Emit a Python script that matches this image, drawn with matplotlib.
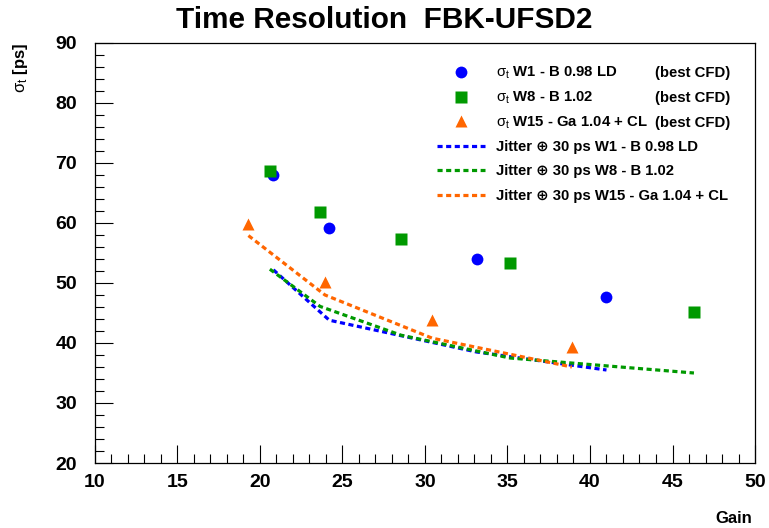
import matplotlib
matplotlib.use('Agg')
import matplotlib.pyplot as plt
from matplotlib.ticker import MultipleLocator
from matplotlib.lines import Line2D
from matplotlib import transforms

# -------------------------------
# Data
# -------------------------------
gain_w1 = [20.81, 24.2, 33.13, 41.0]
sigma_w1 = [68.0, 59.2, 53.95, 47.7]
jitter_w1 = [52.2, 43.8, 38.5, 35.5]

gain_w8 = [20.6, 23.64, 28.55, 35.15, 46.3]
sigma_w8 = [68.7, 61.9, 57.3, 53.3, 45.1]
jitter_w8 = [52.3, 46.1, 41.3, 37.5, 35.0]

gain_w15 = [19.3, 23.94, 30.44, 38.9]
sigma_w15 = [59.9, 50.2, 43.8, 39.3]
jitter_w15 = [57.9, 48.0, 40.8, 36.0]

labels_pts = [r'$\sigma_{t}$ W1 - B 0.98 LD',
              r'$\sigma_{t}$ W8 - B 1.02',
              r'$\sigma_{t}$ W15 - Ga 1.04 + CL']
labels_jit = ['Jitter \u2295 30 ps W1 - B 0.98 LD',
              'Jitter \u2295 30 ps W8 - B 1.02',
              'Jitter \u2295 30 ps W15 - Ga 1.04 + CL']

BLUE = '#0000ff'
GREEN = '#009900'
ORANGE = '#ff6600'

plt.rcParams['font.family'] = ['Liberation Sans', 'DejaVu Sans']
plt.rcParams['mathtext.fontset'] = 'custom'
plt.rcParams['mathtext.rm'] = 'Liberation Sans'
plt.rcParams['mathtext.it'] = 'Liberation Sans'

fig = plt.figure(figsize=(7.69, 5.28), dpi=100)
ax = fig.add_axes([0.1235, 0.1231, 0.8583, 0.7955])

dash = (0, (1.6, 1.1))
lw = 2.3
ax.plot(gain_w1, jitter_w1, linestyle=dash, color=BLUE, lw=lw)
ax.plot(gain_w8, jitter_w8, linestyle=dash, color=GREEN, lw=lw)
ax.plot(gain_w15, jitter_w15, linestyle=dash, color=ORANGE, lw=lw)

ax.plot(gain_w1, sigma_w1, 'o', color=BLUE, ms=8.5, mec='none')
ax.plot(gain_w8, sigma_w8, 's', color=GREEN, ms=8.5, mec='none')
ax.plot(gain_w15, sigma_w15, '^', color=ORANGE, ms=9, mec='none')

ax.set_xlim(10, 50)
ax.set_ylim(20, 90)
ax.xaxis.set_major_locator(MultipleLocator(5))
ax.xaxis.set_minor_locator(MultipleLocator(1))
ax.yaxis.set_major_locator(MultipleLocator(10))
ax.yaxis.set_minor_locator(MultipleLocator(2))
ax.tick_params(which='both', direction='in', top=False, right=False, width=0.8)
ax.tick_params(which='major', length=13, labelsize=14)
ax.tick_params(axis='y', which='major', pad=13)
ax.tick_params(axis='x', which='major', pad=8)
ax.tick_params(which='minor', length=6.5)
for lab in ax.get_xticklabels() + ax.get_yticklabels():
    lab.set_fontweight('bold')
for sp in ax.spines.values():
    sp.set_linewidth(0.9)

fig.text(0.5, 0.963, 'Time Resolution  FBK-UFSD2', ha='center', va='center',
         fontsize=21.4, fontweight='bold')
ax.set_xlabel('Gain', fontsize=12, fontweight='bold', ha='right', x=1.0)
ax.xaxis.set_label_coords(0.996, -0.115)
fig.text(0.027, 0.872, r'$\sigma_{t}$ [ps]', rotation=90, ha='center', va='center',
         fontsize=12, fontweight='bold')

leg_kw = dict(loc='upper left', bbox_transform=fig.transFigure, frameon=False,
              prop={'weight': 'bold', 'size': 10.7}, handlelength=3.2,
              handletextpad=0.75, borderpad=0, borderaxespad=0)

h_pts = [Line2D([], [], marker='o', ls='none', color=BLUE, ms=8.5, mec='none'),
         Line2D([], [], marker='s', ls='none', color=GREEN, ms=8.5, mec='none'),
         Line2D([], [], marker='^', ls='none', color=ORANGE, ms=9, mec='none')]
h_jit = [Line2D([], [], linestyle=dash, color=BLUE, lw=lw),
         Line2D([], [], linestyle=dash, color=GREEN, lw=lw),
         Line2D([], [], linestyle=dash, color=ORANGE, lw=lw)]

leg1 = ax.legend(h_pts, labels_pts, bbox_to_anchor=(437 / 769, 1 - 65 / 528),
                 labelspacing=0.56, **leg_kw)
ax.add_artist(leg1)
leg2 = ax.legend(h_jit, labels_jit, bbox_to_anchor=(437 / 769, 1 - 140 / 528),
                 labelspacing=0.7, **leg_kw)

# "(best CFD)" column aligned with the marker rows
fig.canvas.draw()
trans = transforms.blended_transform_factory(fig.transFigure, transforms.IdentityTransform())
for t in leg1.get_texts():
    bb = t.get_window_extent()
    fig.text(655 / 769, (bb.y0 + bb.y1) / 2, '(best CFD)', transform=trans,
             ha='left', va='center', fontsize=10.7, fontweight='bold')

fig.savefig('out.png', dpi=100)
